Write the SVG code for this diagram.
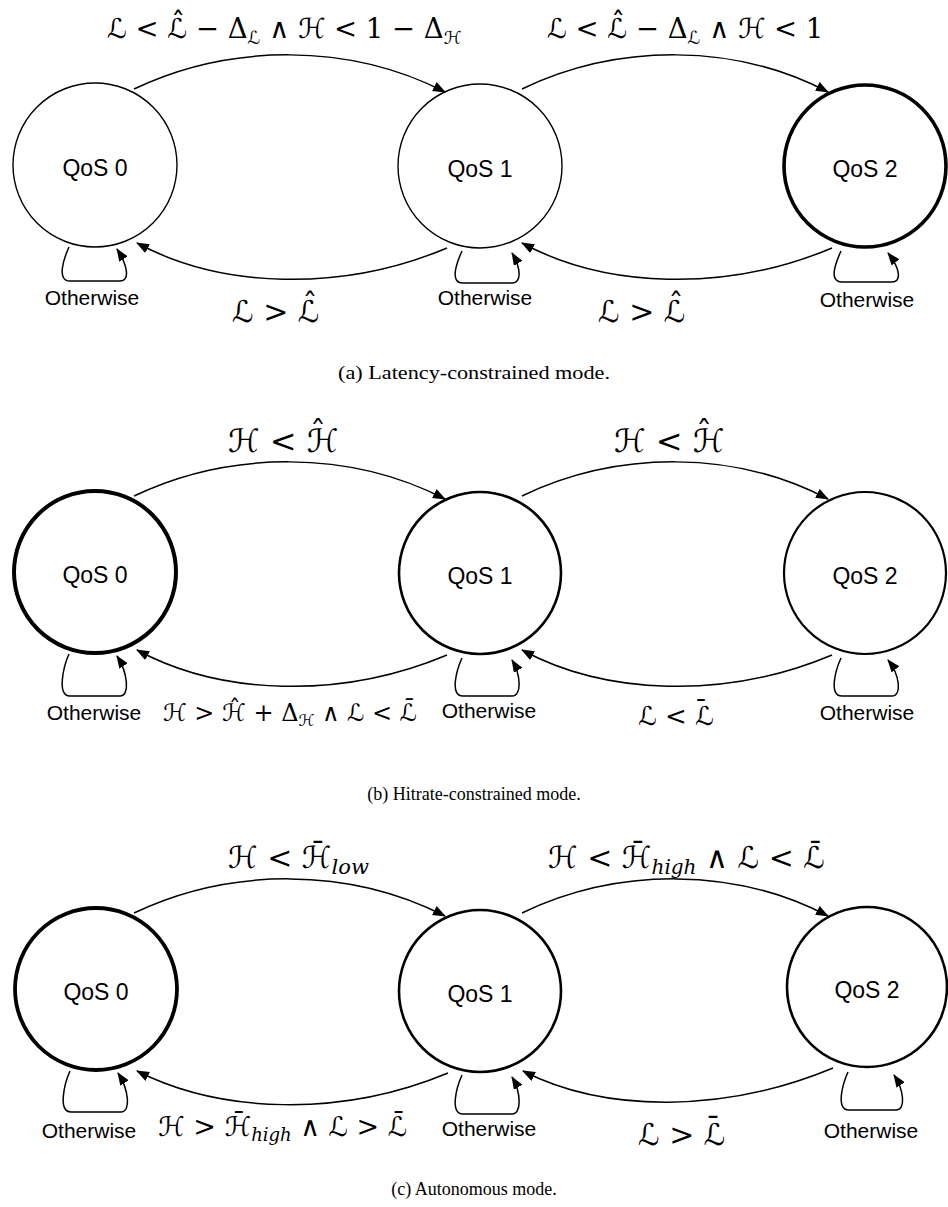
<svg xmlns="http://www.w3.org/2000/svg" width="948" height="1207" viewBox="0 0 948 1207">
<style>
.node{fill:#fff;stroke:#000}
.lbl{font-family:'Liberation Sans',Arial,sans-serif;font-size:23px;text-anchor:middle;fill:#000}
.oth{font-family:'Liberation Sans',Arial,sans-serif;font-size:21px;text-anchor:middle;fill:#000}
.edge{fill:none;stroke:#000;stroke-width:1.5;marker-end:url(#ah)}
.math{font-family:'DejaVu Serif','DejaVu Sans',serif;fill:#000}
.acc{text-anchor:middle}
.cap{font-family:'Liberation Serif','Times New Roman',serif;font-size:18px;text-anchor:middle;fill:#000}
</style>
<defs>
<marker id="ah" markerUnits="userSpaceOnUse" markerWidth="14" markerHeight="12" refX="12" refY="5" orient="auto">
<path d="M0,0 L13,5 L0,10 z" fill="#000"/>
</marker>
</defs>
<rect width="948" height="1207" fill="#fff"/>

<!-- Panel (a) -->
<g id="a-nodes">
<g id="a-qos0"><circle class="node" cx="95" cy="165" r="82" stroke-width="1.4"/><text class="lbl" x="95" y="176">QoS 0</text></g>
<g id="a-qos1"><circle class="node" cx="480" cy="166" r="82" stroke-width="1.4"/><text class="lbl" x="480" y="177">QoS 1</text></g>
<g id="a-qos2"><circle class="node" cx="865" cy="166" r="81" stroke-width="3.6"/><text class="lbl" x="865" y="177">QoS 2</text></g>
</g>
<g id="a-edges">
<path class="edge" d="M134,89 C230,43 350,43 445,92"/>
<path class="edge" d="M522,89 C618,43 735,43 828,92"/>
<path class="edge" d="M447,248 C340,293 220,288 137,243"/>
<path class="edge" d="M832,248 C725,293 605,288 522,243"/>
<path class="edge" d="M69,247 C64,258 56,281 70,281 L120,281 C130,281 128,266 117,249"/>
<path class="edge" d="M462,251 C457,262 449,283 463,283 L512,283 C522,283 521,268 512,253"/>
<path class="edge" d="M841,251 C836,262 828,282 842,282 L892,282 C902,282 900,268 888,253"/>
</g>
<g id="a-labels">
<text class="oth" x="92" y="305">Otherwise</text>
<text class="oth" x="485" y="305">Otherwise</text>
<text class="oth" x="867" y="307">Otherwise</text>
<text class="math" x="107" y="38" font-size="27.5">ℒ &lt; ℒ̂ − Δ<tspan font-size="18" dy="6">ℒ</tspan><tspan dy="-6"> ∧ ℋ &lt; 1 − Δ</tspan><tspan font-size="18" dy="6">ℋ</tspan></text>
<text class="math" x="547" y="38" font-size="27.5">ℒ &lt; ℒ̂ − Δ<tspan font-size="18" dy="6">ℒ</tspan><tspan dy="-6"> ∧ ℋ &lt; 1</tspan></text>
<text class="math" x="232" y="322" font-size="30">ℒ &gt; ℒ<tspan class="acc" x="310" y="314">ˆ</tspan></text>
<text class="math" x="598" y="322" font-size="30">ℒ &gt; ℒ<tspan class="acc" x="676" y="314">ˆ</tspan></text>
<text class="cap" x="474" y="379" font-size="20" textLength="272" lengthAdjust="spacingAndGlyphs">(a)  Latency-constrained mode.</text>
</g>

<!-- Panel (b) -->
<g id="b-nodes">
<g id="b-qos0"><circle class="node" cx="95" cy="572" r="81" stroke-width="4"/><text class="lbl" x="95" y="583">QoS 0</text></g>
<g id="b-qos1"><circle class="node" cx="480" cy="573" r="81" stroke-width="2.6"/><text class="lbl" x="480" y="584">QoS 1</text></g>
<g id="b-qos2"><circle class="node" cx="865" cy="573" r="81" stroke-width="2.2"/><text class="lbl" x="865" y="584">QoS 2</text></g>
</g>
<g id="b-edges">
<path class="edge" d="M134,496 C230,450 350,450 445,499"/>
<path class="edge" d="M522,496 C618,450 735,450 828,499"/>
<path class="edge" d="M447,655 C340,700 220,695 137,650"/>
<path class="edge" d="M832,655 C725,700 605,695 522,650"/>
<path class="edge" d="M69,654 C64,665 56,696 70,696 L120,696 C130,696 128,673 117,656"/>
<path class="edge" d="M462,658 C457,669 449,696 463,696 L512,696 C522,696 521,675 512,660"/>
<path class="edge" d="M841,658 C836,669 828,696 842,696 L892,696 C902,696 900,675 888,660"/>
</g>
<g id="b-labels">
<text class="oth" x="94" y="720">Otherwise</text>
<text class="oth" x="489" y="718">Otherwise</text>
<text class="oth" x="867" y="720">Otherwise</text>
<text class="math" x="228" y="452" font-size="32">ℋ &lt; ℋ<tspan class="acc" x="318" y="444">ˆ</tspan></text>
<text class="math" x="614" y="452" font-size="32">ℋ &lt; ℋ<tspan class="acc" x="704" y="444">ˆ</tspan></text>
<text class="math" x="163" y="721" font-size="24">ℋ &gt; ℋ̂ + Δ<tspan font-size="16" dy="5">ℋ</tspan><tspan dy="-5"> ∧ ℒ &lt; ℒ̄</tspan></text>
<text class="math" x="638" y="725" font-size="26">ℒ &lt; ℒ<tspan class="acc" x="701" y="719">¯</tspan></text>
<text class="cap" x="474" y="800">(b)  Hitrate-constrained mode.</text>
</g>

<!-- Panel (c) -->
<g id="c-nodes">
<g id="c-qos0"><circle class="node" cx="96" cy="989" r="81" stroke-width="3.8"/><text class="lbl" x="96" y="1000">QoS 0</text></g>
<g id="c-qos1"><circle class="node" cx="480" cy="991" r="81" stroke-width="2.6"/><text class="lbl" x="480" y="1002">QoS 1</text></g>
<g id="c-qos2"><circle class="node" cx="867" cy="987" r="80" stroke-width="2.6"/><text class="lbl" x="867" y="998">QoS 2</text></g>
</g>
<g id="c-edges">
<path class="edge" d="M134,913 C230,867 350,867 445,916"/>
<path class="edge" d="M522,913 C618,867 735,867 828,916"/>
<path class="edge" d="M448,1073 C340,1118 220,1113 137,1071"/>
<path class="edge" d="M833,1068 C725,1113 605,1113 523,1071"/>
<path class="edge" d="M70,1071 C65,1082 57,1112 71,1112 L121,1112 C131,1112 129,1090 118,1073"/>
<path class="edge" d="M462,1075 C457,1086 449,1114 463,1114 L512,1114 C522,1114 521,1092 512,1077"/>
<path class="edge" d="M848,1072 C843,1083 835,1110 849,1110 L896,1110 C906,1110 904,1090 894,1075"/>
</g>
<g id="c-labels">
<text class="oth" x="89" y="1138">Otherwise</text>
<text class="oth" x="489" y="1136">Otherwise</text>
<text class="oth" x="871" y="1138">Otherwise</text>
<text class="math" x="228" y="868" font-size="30">ℋ &lt; ℋ̄<tspan font-size="21" dy="6" font-style="italic">low</tspan></text>
<text class="math" x="548" y="868" font-size="30">ℋ &lt; ℋ̄<tspan font-size="20" dy="6" font-style="italic">high</tspan><tspan dy="-6"> ∧ ℒ &lt; ℒ̄</tspan></text>
<text class="math" x="158" y="1136" font-size="27">ℋ &gt; ℋ̄<tspan font-size="18" dy="5" font-style="italic">high</tspan><tspan dy="-5"> ∧ ℒ &gt; ℒ̄</tspan></text>
<text class="math" x="638" y="1145" font-size="30">ℒ &gt; ℒ<tspan class="acc" x="713" y="1138">¯</tspan></text>
<text class="cap" x="474" y="1195">(c)  Autonomous mode.</text>
</g>
</svg>
